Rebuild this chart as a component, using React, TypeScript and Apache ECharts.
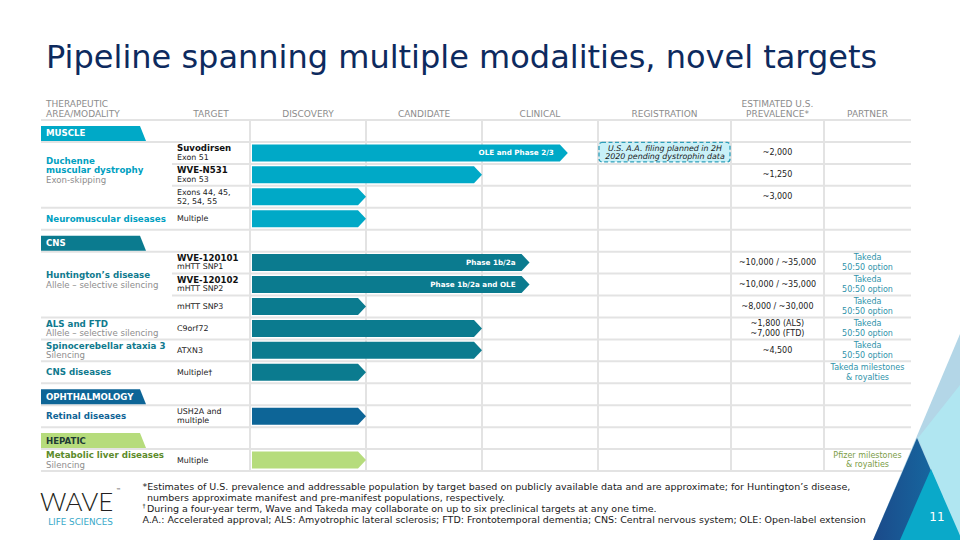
import React, { useEffect, useRef } from "react";
import * as echarts from "echarts";

const titleText = "Pipeline spanning multiple modalities, novel targets";

const headerLabels = [
  "THERAPEUTIC\nAREA/MODALITY",
  "TARGET",
  "DISCOVERY",
  "CANDIDATE",
  "CLINICAL",
  "REGISTRATION",
  "ESTIMATED U.S.\nPREVALENCE*",
  "PARTNER",
];

const rowLabels = [
  "MUSCLE",
  "Suvodirsen",
  "WVE-N531",
  "Exons 44, 45, 52, 54, 55",
  "Neuromuscular diseases",
  "CNS",
  "WVE-120101",
  "WVE-120102",
  "mHTT SNP3",
  "C9orf72",
  "ATXN3",
  "CNS diseases",
  "OPHTHALMOLOGY",
  "Retinal diseases",
  "HEPATIC",
  "Metabolic liver diseases",
];

const sectionNames = ["MUSCLE", "CNS", "OPHTHALMOLOGY", "HEPATIC"];
const sectionRows = [0, 5, 12, 14];

const itemRows = [1, 2, 3, 4, 6, 7, 8, 9, 10, 11, 13, 15];
const itemSection = [0, 0, 0, 0, 1, 1, 1, 1, 1, 1, 2, 3];
const targetNames = ["Suvodirsen", "WVE-N531", "", "", "WVE-120101", "WVE-120102", "", "", "", "", "", ""];
const targetDetails = [
  "Exon 51",
  "Exon 53",
  "Exons 44, 45,\n52, 54, 55",
  "Multiple",
  "mHTT SNP1",
  "mHTT SNP2",
  "mHTT SNP3",
  "C9orf72",
  "ATXN3",
  "Multiple†",
  "USH2A and\nmultiple",
  "Multiple",
];
// progress in stage units: 0 = start of Discovery, 1 = end of Discovery, 2 = end of Candidate, 3 = end of Clinical
const progress = [2.74, 2.0, 1.0, 1.0, 2.41, 2.41, 1.0, 2.0, 2.0, 1.0, 1.0, 1.0];
const barLabels = ["OLE and Phase 2/3", "", "", "", "Phase 1b/2a", "Phase 1b/2a and OLE", "", "", "", "", "", ""];
const registrationNotes = [
  "U.S. A.A. filing planned in 2H\n2020 pending dystrophin data",
  "", "", "", "", "", "", "", "", "", "", "",
];
const prevalence = [
  "~2,000",
  "~1,250",
  "~3,000",
  "",
  "~10,000 / ~35,000",
  "~10,000 / ~35,000",
  "~8,000 / ~30,000",
  "~1,800 (ALS)\n~7,000 (FTD)",
  "~4,500",
  "",
  "",
  "",
];
const partners = [
  "", "", "", "",
  "Takeda\n50:50 option",
  "Takeda\n50:50 option",
  "Takeda\n50:50 option",
  "Takeda\n50:50 option",
  "Takeda\n50:50 option",
  "Takeda milestones\n& royalties",
  "",
  "Pfizer milestones\n& royalties",
];

const diseaseNames = [
  "Duchenne\nmuscular dystrophy",
  "Neuromuscular diseases",
  "Huntington’s disease",
  "ALS and FTD",
  "Spinocerebellar ataxia 3",
  "CNS diseases",
  "Retinal diseases",
  "Metabolic liver diseases",
];
const diseaseModalities = [
  "Exon-skipping",
  "",
  "Allele – selective silencing",
  "Allele – selective silencing",
  "Silencing",
  "",
  "",
  "Silencing",
];
const diseaseFirstItem = [0, 3, 4, 7, 8, 9, 10, 11];
const diseaseItemCount = [3, 1, 3, 1, 1, 1, 1, 1];

const footnoteLines = [
  "*Estimates of U.S. prevalence and addressable population by target based on publicly available data and are approximate; for Huntington’s disease,",
  "numbers approximate manifest and pre-manifest populations, respectively.",
  "During a four-year term, Wave and Takeda may collaborate on up to six preclinical targets at any one time.",
  "A.A.: Accelerated approval; ALS: Amyotrophic lateral sclerosis; FTD: Frontotemporal dementia; CNS: Central nervous system; OLE: Open-label extension",
];

// ---- styles / layout ----
const FONT = "'DejaVu Sans', Verdana, sans-serif";
const GRID_COLOR = "#e3e3e3";
const HEADER_COLOR = "#8c8c8c";
const MODALITY_COLOR = "#8e8e8e";
const SECTION_FILL = ["#00a9c7", "#0b7b8f", "#0d6597", "#b6dc7c"];
const SECTION_TEXT = ["#ffffff", "#ffffff", "#ffffff", "#1e3a35"];
const DISEASE_COLOR = ["#00a0c1", "#0f7a8e", "#0f6496", "#5c8b2b"];
const PARTNER_COLOR = ["#2f93aa", "#2f93aa", "#2f93aa", "#7c9d47"];
const L = 41;
const R = 911;
const TARGET_X = 172;
const PREV_X = 731;
const PARTNER_X = 824;

function txt(text: string, x: number, y: number, size: number, color: string, o: any = {}) {
  return {
    type: "text",
    style: {
      text,
      x,
      y,
      fill: color,
      fontSize: size,
      fontFamily: o.family || FONT,
      fontWeight: o.bold ? "bold" : o.weight || "normal",
      fontStyle: o.italic ? "italic" : "normal",
      align: o.align || "left",
      verticalAlign: "middle",
    },
  };
}

function multi(out: any[], text: string, x: number, yc: number, lh: number, size: number, color: string, o: any = {}) {
  const parts = text.split("\n");
  parts.forEach((p, k) => {
    out.push(txt(p, x, yc + (k - (parts.length - 1) / 2) * lh, size, color, o));
  });
}

const tableRender = (params: any, api: any) => {
  const r = api.value(0);
  const c = api.coord([0, r]);
  const h = api.size([0, 1])[1];
  const yc = c[1];
  const top = yc - h / 2;
  const bot = yc + h / 2;
  const ch: any[] = [];
  const line = (x1: number, y1: number, x2: number, y2: number) =>
    ch.push({ type: "line", shape: { x1, y1, x2, y2 }, style: { stroke: GRID_COLOR, lineWidth: 2 } });

  if (r === 0) {
    line(L, top, R, top);
    const last = api.coord([0, rowLabels.length - 1])[1] + h / 2;
    const vx = [0, 1, 2, 3].map((v) => api.coord([v, 0])[0]).concat([PREV_X, PARTNER_X]);
    vx.forEach((x) => line(x, top, x, last + 1));
    // headers
    const centers = [
      L + 5,
      (TARGET_X + vx[0]) / 2,
      api.coord([0.5, 0])[0],
      api.coord([1.5, 0])[0],
      api.coord([2.5, 0])[0],
      (vx[3] + PREV_X) / 2,
      (PREV_X + PARTNER_X) / 2,
      (PARTNER_X + R) / 2,
    ];
    headerLabels.forEach((lab, k) => {
      const parts = lab.split("\n");
      parts.forEach((p, j) => {
        const y = top - 6.5 - (parts.length - 1 - j) * 9.8;
        ch.push(txt(p, centers[k], y, 9, HEADER_COLOR, { align: k === 0 ? "left" : "center" }));
      });
    });
  }

  const s = sectionRows.indexOf(r);
  if (s >= 0) {
    line(L, bot, R, bot);
    ch.push({
      type: "polygon",
      shape: { points: [[L, bot - 16], [L + 99, bot - 16], [L + 105, bot - 1], [L, bot - 1]] },
      style: { fill: SECTION_FILL[s] },
    });
    ch.push(txt(sectionNames[s], L + 5, bot - 8.5, 8.6, SECTION_TEXT[s], { bold: true }));
    return { type: "group", children: ch };
  }

  const i = itemRows.indexOf(r);
  if (i < 0) return { type: "group", children: ch };
  const sec = itemSection[i];

  // disease group
  let g = 0;
  diseaseFirstItem.forEach((f, k) => {
    if (i >= f && i < f + diseaseItemCount[k]) g = k;
  });
  const f = diseaseFirstItem[g];
  const n = diseaseItemCount[g];
  const inner = i < f + n - 1;
  line(inner ? TARGET_X : L, bot, R, bot);

  if (i === f) {
    const gc = top + (n * h) / 2 - (n > 1 ? 4.5 : 0);
    const lines = diseaseNames[g].split("\n").map((t) => ({ t, m: false }));
    if (diseaseModalities[g]) lines.push({ t: diseaseModalities[g], m: true });
    lines.forEach((ln, k) => {
      const y = gc + (k - (lines.length - 1) / 2) * 9.2;
      ch.push(
        ln.m
          ? txt(ln.t, L + 5, y, 8.6, MODALITY_COLOR)
          : txt(ln.t, L + 5, y, 8.7, DISEASE_COLOR[sec], { bold: true })
      );
    });
  }

  // target
  const tx = TARGET_X + 5;
  if (targetNames[i]) {
    ch.push(txt(targetNames[i], tx, yc - 4.6, 8.6, "#111111", { bold: true }));
    ch.push(txt(targetDetails[i], tx, yc + 4.4, 7.9, "#222222"));
  } else {
    multi(ch, targetDetails[i], tx, yc, 8.6, 7.9, "#222222");
  }

  if (prevalence[i]) multi(ch, prevalence[i], (PREV_X + PARTNER_X) / 2, yc, 9.8, 8, "#222222", { align: "center" });
  if (partners[i]) multi(ch, partners[i], (PARTNER_X + R) / 2, yc, 9.6, 8, PARTNER_COLOR[sec], { align: "center" });

  return { type: "group", children: ch };
};

const barRender = (params: any, api: any) => {
  const i = params.dataIndex;
  const row = api.value(0);
  const end = api.value(1);
  const s = api.coord([0, row]);
  const e = api.coord([end, row]);
  const x0 = s[0] + 2;
  const x1 = e[0];
  const yc = s[1];
  const hh = 8.5;
  const tip = 8;
  const ch: any[] = [
    {
      type: "polygon",
      shape: { points: [[x0, yc - hh], [x1 - tip, yc - hh], [x1, yc], [x1 - tip, yc + hh], [x0, yc + hh]] },
      style: { fill: SECTION_FILL[itemSection[i]] },
    },
  ];
  if (barLabels[i]) ch.push(txt(barLabels[i], x1 - 14, yc, 7.2, "#ffffff", { bold: true, align: "right" }));
  if (registrationNotes[i]) {
    const h = api.size([0, 1])[1];
    const rx = api.coord([3, row])[0] + 1;
    ch.push({
      type: "rect",
      shape: { x: rx, y: yc - h / 2 + 0.5, width: PREV_X - 1 - rx, height: h - 2.5, r: 3 },
      style: { fill: "#c9f1f8", stroke: "#2f9fba", lineWidth: 1.3, lineDash: [4, 2.5] },
    });
    multi(ch, registrationNotes[i], (rx + PREV_X) / 2, yc - 0.5, 8, 7.9, "#1a1a1a", { italic: true, align: "center" });
  }
  return { type: "group", children: ch };
};

export default function App() {
  const ref = useRef<HTMLDivElement>(null);
  useEffect(() => {
    if (!ref.current) return;
    const chart = echarts.init(ref.current, null, { renderer: "svg" });
    const graphic: any[] = [
      {
        type: "text",
        x: 46,
        y: 57,
        style: { text: titleText, fill: "#0d2a5e", fontSize: 32, fontFamily: FONT, verticalAlign: "middle" },
      },
      ...footnoteLines.map((t, k) => ({
        type: "text",
        x: k === 1 || k === 2 ? 147 : 142.5,
        y: 486.5 + k * 11.1,
        style: { text: t, fill: "#1a1a1a", fontSize: 9.5, fontFamily: FONT, verticalAlign: "middle" },
      })),
      {
        type: "text",
        x: 142.5,
        y: 505,
        style: { text: "†", fill: "#1a1a1a", fontSize: 6, fontFamily: FONT, verticalAlign: "middle" },
      },
      {
        type: "text",
        x: 40,
        y: 500.5,
        style: { text: "WAVE", fill: "#231f20", fontSize: 26, fontWeight: 300, fontFamily: "Lato, 'DejaVu Sans', sans-serif", verticalAlign: "middle" },
      },
      {
        type: "text",
        x: 116,
        y: 490,
        style: { text: "™", fill: "#231f20", fontSize: 5, fontFamily: FONT, verticalAlign: "middle" },
      },
      {
        type: "text",
        x: 80.5,
        y: 522,
        style: { text: "LIFE SCIENCES", fill: "#38a9c9", fontSize: 8.8, fontFamily: FONT, align: "center", verticalAlign: "middle" },
      },
      // decorative triangles
      { type: "polygon", z: 10, shape: { points: [[960, 334], [873, 540], [960, 540]] }, style: { fill: "#b3d6e7" } },
      { type: "polygon", z: 10, shape: { points: [[960, 385], [918, 438], [960, 540]] }, style: { fill: "#b0e6f1" } },
      {
        type: "polygon",
        z: 11,
        shape: { points: [[917, 438], [873, 540], [961, 540]] },
        style: {
          fill: new echarts.graphic.LinearGradient(0, 0, 1, 0, [
            { offset: 0, color: "#1b4a8a" },
            { offset: 1, color: "#1474a9" },
          ]),
        },
      },
      { type: "polygon", z: 12, shape: { points: [[931, 469], [900, 540], [962, 540]] }, style: { fill: "#0aa9c9" } },
      {
        type: "text",
        z: 13,
        x: 937,
        y: 517,
        style: { text: "11", fill: "#ffffff", fontSize: 12, fontFamily: FONT, align: "center", verticalAlign: "middle" },
      },
    ];
    chart.setOption({
      animation: false,
      grid: { left: 250, top: 120, width: 348, height: 351, show: false },
      xAxis: { type: "value", min: 0, max: 3, show: false },
      yAxis: { type: "category", data: rowLabels, inverse: true, show: false },
      series: [
        {
          type: "custom",
          name: "table",
          renderItem: tableRender,
          data: rowLabels.map((_, k) => [k, 0]),
          encode: { y: 0, x: 1 },
          z: 1,
          silent: true,
        },
        {
          type: "custom",
          name: "pipeline",
          renderItem: barRender,
          data: itemRows.map((r, k) => [r, progress[k]]),
          encode: { y: 0, x: 1 },
          z: 3,
          silent: true,
        },
      ],
      graphic,
    });
    return () => chart.dispose();
  }, []);
  return (
    <div
      ref={ref}
      style={{ position: "fixed", left: 0, top: 0, width: 960, height: 540, background: "#ffffff" }}
    />
  );
}
